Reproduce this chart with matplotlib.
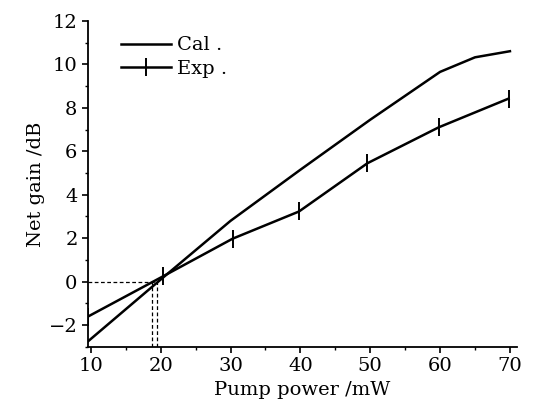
import numpy as np
import matplotlib
matplotlib.use("Agg")
import matplotlib.pyplot as plt
from matplotlib.ticker import MultipleLocator

# calculated net gain
cal_power = [9.6, 20, 30, 40, 50, 60, 65, 70]
cal_gain = [-2.74, 0.1, 2.8, 5.15, 7.45, 9.65, 10.32, 10.6]

# measured net gain
exp_power = [9.6, 20.4, 30.3, 39.8, 49.6, 59.8, 69.8]
exp_gain = [-1.6, 0.26, 1.98, 3.23, 5.45, 7.1, 8.42]

# threshold markers
thr_gain = 0
thr_power = [18.8, 19.5]

plt.rcParams['font.family'] = ['DejaVu Serif']
plt.rcParams['font.size'] = 14

fig = plt.figure(figsize=(5.45, 4.01), dpi=100)
ax = fig.add_axes([0.1615, 0.1347, 0.787, 0.8135])

ax.plot(cal_power, cal_gain, color='black', lw=1.8, label='Cal .')
ax.plot(exp_power, exp_gain, color='black', lw=1.8, marker='|', ms=13, mew=1.4, label='Exp .')

ax.plot([9.6, thr_power[1]], [thr_gain, thr_gain], color='black', lw=0.9, ls=(0, (3, 2)))
for p in thr_power:
    ax.plot([p, p], [-3, thr_gain], color='black', lw=0.9, ls=(0, (3, 2)))

ax.set_xlim(9.6, 71)
ax.set_ylim(-3, 12)
ax.xaxis.set_major_locator(MultipleLocator(10))
ax.xaxis.set_minor_locator(MultipleLocator(5))
ax.yaxis.set_major_locator(MultipleLocator(2))
ax.yaxis.set_minor_locator(MultipleLocator(1))
ax.tick_params(which='major', direction='out', length=4, width=1.2)
ax.tick_params(which='minor', direction='out', length=2.5, width=1)
ax.set_yticks([-2, 0, 2, 4, 6, 8, 10, 12])
ax.set_yticklabels(['\u22122', '0', '2', '4', '6', '8', '10', '12'])

for s in ['top', 'right']:
    ax.spines[s].set_visible(False)
for s in ['left', 'bottom']:
    ax.spines[s].set_linewidth(1.3)

ax.set_xlabel('Pump power /mW', labelpad=4)
ax.set_ylabel('Net gain /dB', labelpad=3)

ax.legend(loc='upper left', bbox_to_anchor=(0.04, 1.0), frameon=False,
          handlelength=2.6, handletextpad=0.3, labelspacing=0.3, borderpad=0.3)

fig.savefig('out.png', dpi=100)
